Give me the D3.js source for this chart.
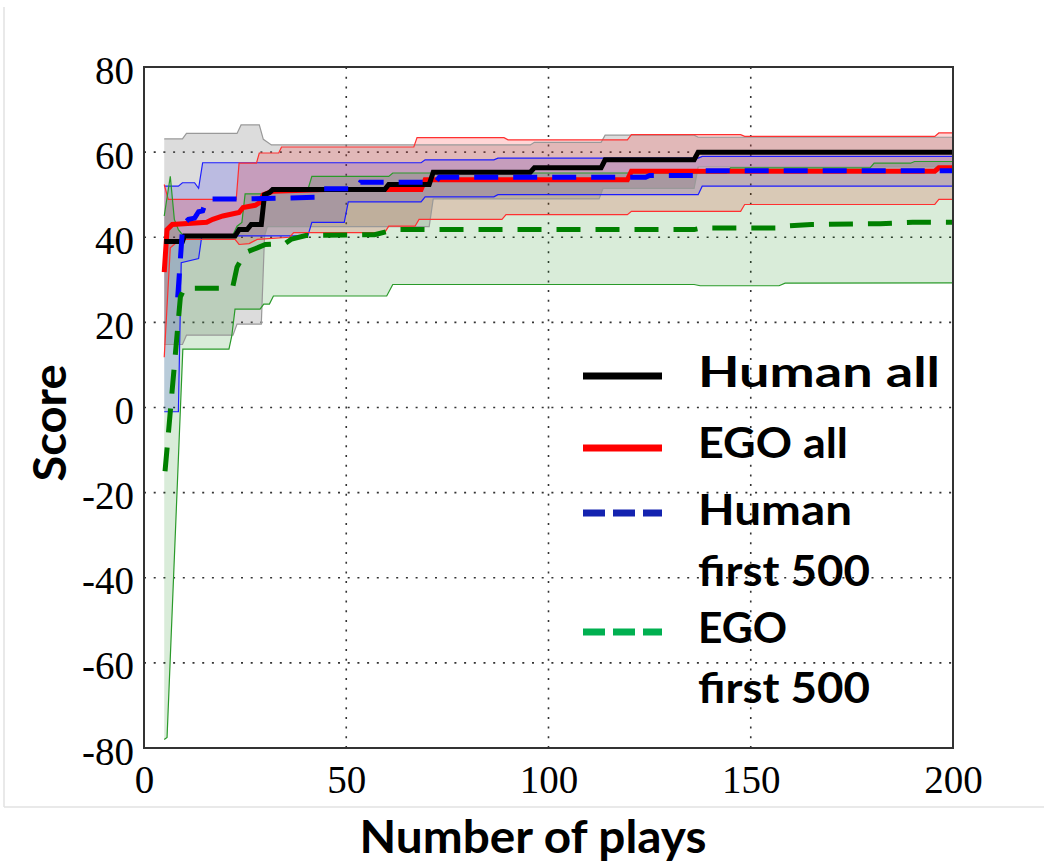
<!DOCTYPE html>
<html>
<head>
<meta charset="utf-8">
<script src="https://cdn.jsdelivr.net/npm/d3@7"></script>
<style>
  html, body { margin: 0; padding: 0; background: #fff; }
  svg { display: block; }
</style>
</head>
<body>
<svg id="chart" width="1044" height="863"></svg>
<script>
// ---------------- DATA ----------------
const xTicks = [0, 50, 100, 150, 200];
const yTicks = [-80, -60, -40, -20, 0, 20, 40, 60, 80];
const seriesNames = ["Human all", "EGO all", "Human first 500", "EGO first 500"];

// Human all (black solid) mean and band
const humanAllMean = [[5,39],[9.5,39],[10,40.3],[22.5,40.3],[23.5,41.8],[25.5,41.8],[26.5,43],[29,43],[29.8,50],[31,50.5],[31.8,51.2],[59.5,51.2],[60.5,52.4],[70.5,52.4],[71.5,55.3],[95.5,55.3],[96.5,56.3],[113,56.3],[114,58.2],[136,58.2],[137,60],[200,60]];
const humanAllUpper = [[5,63.1],[9.5,63.1],[10.5,64.4],[23,64.4],[24,66.4],[28.5,66.4],[29.5,63],[31.5,61.7],[95.5,61.7],[96.5,62.3],[113,62.3],[114,64],[136,64],[137,63.5],[200,63.5]];
const humanAllLower = [[5,14.8],[9.5,14.8],[10.5,17],[22,17],[23,19.6],[29,19.6],[29.8,40.3],[30.5,42.5],[70.5,42.5],[71.5,49],[112.5,49],[113.5,51.5],[136,51.5],[137,56.5],[200,56.5]];

// EGO all (red solid)
const egoAllMean = [[5,31.8],[5.7,41.8],[7,43],[15.5,43.5],[17,44.2],[19.5,45],[23.5,45.8],[24.5,47],[27.5,47.5],[28.5,48.1],[29.5,50],[31.8,50.8],[45,51.2],[68.5,51.2],[69.5,53.5],[119.5,53.5],[120.5,55.5],[195.5,55.5],[196.5,56.3],[200,56.3]];
const egoAllUpper = [[5,52.4],[6,48.9],[22.8,48.9],[23.5,57.4],[27.8,57.4],[28.5,59.8],[33.3,59.8],[34,61.2],[66.7,61.2],[67.5,63.4],[89,63.4],[90,62.9],[119.5,62.9],[120.5,64.1],[147.5,64.1],[148.5,63.7],[195.5,63.7],[196.5,64.5],[200,64.5]];
const egoAllLower = [[5,11.8],[6.5,37.5],[9,39.5],[22.5,39.5],[23.5,38.3],[26,38.5],[28,39.5],[36,40],[37,41.1],[59.5,41.1],[60.5,42.6],[67,42.6],[68,44.2],[88.5,44.2],[89.5,45.3],[119.5,45.3],[120.5,46.1],[147.5,46.1],[148.5,47.7],[195.5,47.7],[196.5,48.9],[200,48.9]];

// Human first 500 (blue dashed)
const humanFirstMean = [[5,25.5],[8.3,25.5],[9.3,39],[9.6,43],[11,44.2],[12.5,44.5],[13.5,46],[14.5,46.2],[15.5,49],[25,49],[34,49.2],[43,49.4],[44,51.4],[52.5,51.4],[53.5,52.9],[72,52.9],[73,54.1],[124,54.1],[125,54.5],[137,54.5],[138,55.6],[200,55.6]];
const humanFirstUpper = [[5,52],[8.5,52],[9.5,52.8],[12.5,52.8],[13.5,51.5],[14.5,57.5],[68.5,57.5],[69.5,58.2],[86.5,58.2],[87.5,58.6],[137,58.6],[138,59],[200,59]];
const humanFirstLower = [[5,-1],[8.5,-1],[9.2,34],[13.5,35],[14.3,40.3],[40.5,40.3],[41.5,43.5],[49.5,43.5],[50.5,48.3],[68.5,48.3],[69.5,49.5],[86.5,49.5],[87.5,50],[137,50],[138,52],[200,52]];

// EGO first 500 (green dashed)
const egoFirstMean = [[5.2,-15],[9,26],[10,28],[21,28],[22,28.6],[23,33],[25,36.4],[28,37.5],[30,38.3],[35,38.6],[36.5,39.6],[40,40.4],[57,40.6],[62,41.8],[136,41.8],[138,42.2],[157,42.2],[158,42.6],[165,43],[182,43.2],[190,43.5],[200,43.5]];
const egoFirstUpper = [[5,45],[6.5,54.3],[7.5,44.2],[8.5,41.8],[9.5,40.6],[22,40.6],[23,42.6],[24.2,43.5],[25,50.2],[30.5,50.2],[31.5,51.2],[40.5,51.2],[41.5,54.3],[60.5,54.3],[61.5,55.1],[144,55.1],[145,56.3],[179.5,56.3],[180.5,57.4],[189.5,57.4],[190.5,57.8],[200,57.8]];
const egoFirstLower = [[5,-78],[5.7,-77.5],[9.6,13.7],[21,13.7],[21.7,16.8],[22.5,23.1],[28.7,23.1],[29.6,24.3],[31,24.3],[32,26.2],[60,26.2],[61.5,28.9],[136,28.9],[137.5,28.6],[157,28.6],[158.5,29.2],[200,29.3]];

// ---------------- CHART ----------------
const svg = d3.select("#chart");
const x = d3.scaleLinear().domain([0, 200]).range([144, 953]);
const y = d3.scaleLinear().domain([-80, 80]).range([748, 67]);

// faint figure frame
svg.append("line").attr("x1", 4).attr("x2", 4).attr("y1", 7).attr("y2", 807)
  .attr("stroke", "#e2e2e2").attr("stroke-width", 1.5);
svg.append("line").attr("x1", 4).attr("x2", 1044).attr("y1", 807).attr("y2", 807)
  .attr("stroke", "#e2e2e2").attr("stroke-width", 1.5);

// grid
const grid = svg.append("g");
grid.selectAll("line.gx").data(xTicks.slice(1, -1)).join("line")
  .attr("x1", d => x(d)).attr("x2", d => x(d)).attr("y1", y(80)).attr("y2", y(-80))
  .attr("stroke", "#333").attr("stroke-width", 1.6).attr("stroke-dasharray", "2,7.7");
grid.selectAll("line.gy").data(yTicks.slice(1, -1)).join("line")
  .attr("y1", d => y(d)).attr("y2", d => y(d)).attr("x1", x(0)).attr("x2", x(200))
  .attr("stroke", "#333").attr("stroke-width", 1.6).attr("stroke-dasharray", "2,7.7");

const line = d3.line().x(d => x(d[0])).y(d => y(d[1])).curve(d3.curveLinear);
function bandPath(upper, lower) {
  return line(upper.concat(lower.slice().reverse())) + "Z";
}

const bands = [
  { up: humanAllUpper, lo: humanAllLower, fill: "rgba(128,128,128,0.28)", edge: "#999" },
  { up: humanFirstUpper, lo: humanFirstLower, fill: "rgba(0,0,255,0.15)", edge: "#1c1cff" },
  { up: egoAllUpper, lo: egoAllLower, fill: "rgba(255,0,0,0.16)", edge: "#ff3030" },
  { up: egoFirstUpper, lo: egoFirstLower, fill: "rgba(0,128,0,0.15)", edge: "#2a9a2a" }
];
const bandG = svg.append("g");
bands.forEach(b => {
  bandG.append("path").attr("d", bandPath(b.up, b.lo)).attr("fill", b.fill).attr("stroke", "none");
});
bands.forEach(b => {
  bandG.append("path").attr("d", line(b.up)).attr("fill", "none").attr("stroke", b.edge).attr("stroke-width", 1.2);
  bandG.append("path").attr("d", line(b.lo)).attr("fill", "none").attr("stroke", b.edge).attr("stroke-width", 1.2);
});

// mean lines
const means = [
  { data: egoAllMean, color: "#ff0000", dash: null, offset: 0 },
  { data: humanAllMean, color: "#000000", dash: null, offset: 0 },
  { data: humanFirstMean, color: "#0000ff", dash: "24,15", offset: 24 },
  { data: egoFirstMean, color: "#008000", dash: "24,15", offset: 0 }
];
const meanG = svg.append("g");
means.forEach(m => {
  meanG.append("path").attr("d", line(m.data)).attr("fill", "none")
    .attr("stroke", m.color).attr("stroke-width", 5)
    .attr("stroke-dasharray", m.dash).attr("stroke-dashoffset", m.offset)
    .attr("stroke-linejoin", "miter");
});

// frame
svg.append("rect").attr("x", x(0)).attr("y", y(80)).attr("width", x(200) - x(0)).attr("height", y(-80) - y(80))
  .attr("fill", "none").attr("stroke", "#333").attr("stroke-width", 2);

// axes (labels)
const fmt = d => String(d);
const xAxis = svg.append("g").attr("transform", `translate(0,${y(-80)})`)
  .call(d3.axisBottom(x).tickValues(xTicks).tickSize(0).tickPadding(17).tickFormat(fmt));
const yAxis = svg.append("g").attr("transform", `translate(${x(0)},0)`)
  .call(d3.axisLeft(y).tickValues(yTicks).tickSize(0).tickPadding(10).tickFormat(fmt));
[xAxis, yAxis].forEach(a => {
  a.select(".domain").remove();
  a.selectAll("text").attr("font-family", "'Liberation Serif', 'Times New Roman', serif")
    .attr("font-size", 39).attr("fill", "#000");
});
yAxis.selectAll("text").attr("dy", 16);

// axis titles
const titleFont = "Lato, 'Open Sans', sans-serif";
svg.append("text").attr("x", 533).attr("y", 853).attr("text-anchor", "middle")
  .attr("font-family", titleFont).attr("font-weight", 700).attr("font-size", 45)
  .attr("textLength", 347).attr("lengthAdjust", "spacingAndGlyphs")
  .text("Number of plays");
svg.append("text").attr("transform", "translate(66,423) rotate(-90)").attr("text-anchor", "middle")
  .attr("font-family", titleFont).attr("font-weight", 700).attr("font-size", 45)
  .attr("textLength", 117).attr("lengthAdjust", "spacingAndGlyphs")
  .text("Score");

// legend
const legendItems = [
  { name: seriesNames[0], lines: ["Human all"], widths: [242], color: "#000", dash: null, ly: 376, ty: [387] },
  { name: seriesNames[1], lines: ["EGO all"], widths: [150], color: "#ff0000", dash: null, ly: 448, ty: [458] },
  { name: seriesNames[2], lines: ["Human", "first 500"], widths: [154, 172], color: "#1423b0", dash: "22,8", ly: 513, ty: [525, 586] },
  { name: seriesNames[3], lines: ["EGO", "first 500"], widths: [89, 172], color: "#00b050", dash: "22,8", ly: 632, ty: [643, 703] }
];
const lg = svg.append("g");
legendItems.forEach(it => {
  lg.append("line").attr("x1", 583).attr("x2", 662).attr("y1", it.ly).attr("y2", it.ly)
    .attr("stroke", it.color).attr("stroke-width", 7).attr("stroke-dasharray", it.dash);
  it.lines.forEach((t, i) => {
    lg.append("text").attr("x", 698).attr("y", it.ty[i])
      .attr("font-family", titleFont).attr("font-weight", 700).attr("font-size", 42)
      .attr("textLength", it.widths[i]).attr("lengthAdjust", "spacingAndGlyphs")
      .attr("fill", "#000").text(t);
  });
});
</script>
</body>
</html>
